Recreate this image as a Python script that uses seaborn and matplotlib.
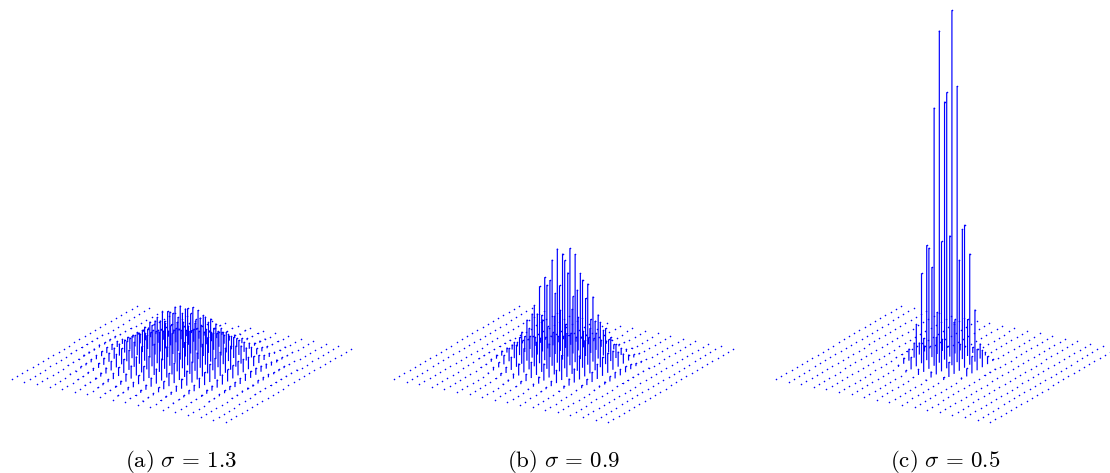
"""Stem plots of a sampled Gaussian kernel for three values of sigma."""
import matplotlib.pyplot as plt
import numpy as np
import pandas as pd
import seaborn as sns

GRID_ROWS = 18
GRID_COLS = 25

# kernel values, only the non-zero block of each grid
ROWS_A = list(range(1, 17))
COLS_A = list(range(1, 24))
VALUES_A = [
    [0, 0, 0, 0, 0, 0, 0, 0, 1, 1, 1, 1, 1, 1, 1, 0, 0, 0, 0, 0, 0, 0, 0],
    [0, 0, 0, 0, 0, 1, 1, 1, 2, 2, 2, 3, 2, 2, 2, 1, 1, 1, 0, 0, 0, 0, 0],
    [0, 0, 0, 1, 1, 2, 2, 3, 4, 5, 6, 6, 6, 5, 4, 3, 2, 2, 1, 1, 0, 0, 0],
    [0, 0, 1, 1, 2, 3, 5, 7, 9, 11, 12, 13, 12, 11, 9, 7, 5, 3, 2, 1, 1, 0, 0],
    [0, 1, 1, 2, 4, 6, 9, 13, 16, 20, 22, 23, 22, 20, 16, 13, 9, 6, 4, 2, 1, 1, 0],
    [0, 1, 2, 3, 6, 9, 14, 20, 25, 31, 34, 36, 34, 31, 25, 20, 14, 9, 6, 3, 2, 1, 0],
    [1, 1, 2, 4, 8, 13, 19, 26, 34, 41, 46, 48, 46, 41, 34, 26, 19, 13, 8, 4, 2, 1, 1],
    [1, 1, 3, 5, 9, 15, 22, 31, 40, 48, 54, 56, 54, 48, 40, 31, 22, 15, 9, 5, 3, 1, 1],
    [1, 1, 3, 5, 9, 15, 22, 31, 41, 49, 55, 57, 55, 49, 41, 31, 22, 15, 9, 5, 3, 1, 1],
    [1, 1, 2, 5, 8, 13, 20, 27, 35, 43, 48, 50, 48, 43, 35, 27, 20, 13, 8, 5, 2, 1, 1],
    [0, 1, 2, 3, 6, 10, 15, 21, 27, 32, 36, 37, 36, 32, 27, 21, 15, 10, 6, 3, 2, 1, 0],
    [0, 1, 1, 2, 4, 6, 10, 13, 18, 21, 24, 25, 24, 21, 18, 13, 10, 6, 4, 2, 1, 1, 0],
    [0, 0, 1, 1, 2, 4, 5, 8, 10, 12, 13, 14, 13, 12, 10, 8, 5, 4, 2, 1, 1, 0, 0],
    [0, 0, 0, 1, 1, 2, 3, 4, 5, 6, 7, 7, 7, 6, 5, 4, 3, 2, 1, 1, 0, 0, 0],
    [0, 0, 0, 0, 0, 1, 1, 2, 2, 2, 3, 3, 3, 2, 2, 2, 1, 1, 0, 0, 0, 0, 0],
    [0, 0, 0, 0, 0, 0, 0, 1, 1, 1, 1, 1, 1, 1, 1, 1, 0, 0, 0, 0, 0, 0, 0],
]

ROWS_B = list(range(3, 15))
COLS_B = list(range(4, 21))
VALUES_B = [
    [0, 0, 0, 0, 0, 1, 1, 1, 1, 1, 1, 1, 0, 0, 0, 0, 0],
    [0, 0, 0, 1, 1, 3, 4, 5, 5, 5, 4, 3, 1, 1, 0, 0, 0],
    [0, 0, 1, 3, 5, 9, 13, 16, 18, 16, 13, 9, 5, 3, 1, 0, 0],
    [0, 1, 3, 6, 13, 22, 32, 41, 44, 41, 32, 22, 13, 6, 3, 1, 0],
    [1, 2, 5, 12, 24, 41, 61, 77, 83, 77, 61, 41, 24, 12, 5, 2, 1],
    [1, 3, 7, 16, 33, 57, 84, 106, 114, 106, 84, 57, 33, 16, 7, 3, 1],
    [1, 3, 7, 17, 34, 58, 86, 108, 117, 108, 86, 58, 34, 17, 7, 3, 1],
    [1, 2, 5, 13, 25, 44, 65, 81, 88, 81, 65, 44, 25, 13, 5, 2, 1],
    [0, 1, 3, 7, 14, 24, 36, 45, 49, 45, 36, 24, 14, 7, 3, 1, 0],
    [0, 0, 1, 3, 6, 10, 15, 19, 20, 19, 15, 10, 6, 3, 1, 0, 0],
    [0, 0, 0, 1, 2, 3, 5, 6, 6, 6, 5, 3, 2, 1, 0, 0, 0],
    [0, 0, 0, 0, 0, 1, 1, 1, 1, 1, 1, 1, 0, 0, 0, 0, 0],
]

ROWS_C = list(range(5, 13))
COLS_C = list(range(7, 18))
VALUES_C = [
    [0, 0, 0, 0, 1, 1, 1, 0, 0, 0, 0],
    [0, 0, 2, 6, 12, 15, 12, 6, 2, 0, 0],
    [0, 2, 12, 42, 90, 115, 90, 42, 12, 2, 0],
    [1, 6, 34, 121, 258, 332, 258, 121, 34, 6, 1],
    [1, 6, 37, 130, 276, 355, 276, 130, 37, 6, 1],
    [0, 3, 15, 52, 111, 143, 111, 52, 15, 3, 0],
    [0, 0, 2, 8, 17, 21, 17, 8, 2, 0, 0],
    [0, 0, 0, 0, 1, 1, 1, 0, 0, 0, 0],
]

CAPTIONS = [r"$\mathrm{(a)}\ \sigma\,=\,1.3$",
            r"$\mathrm{(b)}\ \sigma\,=\,0.9$",
            r"$\mathrm{(c)}\ \sigma\,=\,0.5$"]

# oblique view of the grid, in pixels per grid step
CORNER = (11.7, 93.7)
ROW_STEP = (12.6, -2.53)
COL_STEP = (5.21, 3.07)
PANEL_LEFT = [0, 382.3, 764.3]
PANEL_WIDTH = 370
FIG_W, FIG_H = 1110, 473
BLUE = "#0000ff"


def grid_frame(rows, cols, values):
    """Long table of every grid point with its screen position and value."""
    full = np.zeros((GRID_ROWS, GRID_COLS))
    full[np.ix_(rows, cols)] = values
    row, col = np.meshgrid(np.arange(GRID_ROWS), np.arange(GRID_COLS), indexing="ij")
    df = pd.DataFrame({"row": row.ravel(), "col": col.ravel(), "value": full.ravel()})
    df["sx"] = CORNER[0] + df["row"] * ROW_STEP[0] + df["col"] * COL_STEP[0]
    df["base"] = CORNER[1] + df["row"] * ROW_STEP[1] + df["col"] * COL_STEP[1]
    df["top"] = df["base"] + df["value"]
    return df


def draw_panel(ax, df, caption):
    stems = df[df["value"] > 0]
    lines = ax.vlines(stems["sx"], stems["base"], stems["top"], color=BLUE, linewidth=0.85)
    lines.set_snap(False)
    sns.scatterplot(data=df, x="sx", y="top", ax=ax, color=BLUE, s=1.3,
                    linewidth=0, legend=False)
    ax.text(181, 12, caption, ha="center", va="center", fontsize=16.5, color="black")
    ax.set_xlim(0, PANEL_WIDTH)
    ax.set_ylim(0, FIG_H)
    ax.set_axis_off()


def main():
    sns.set_theme(style="white")
    plt.rcParams["mathtext.fontset"] = "cm"

    fig = plt.figure(figsize=(FIG_W / 100, FIG_H / 100), dpi=100)
    panels = [(ROWS_A, COLS_A, VALUES_A), (ROWS_B, COLS_B, VALUES_B), (ROWS_C, COLS_C, VALUES_C)]
    for left, (rows, cols, values), caption in zip(PANEL_LEFT, panels, CAPTIONS):
        ax = fig.add_axes([left / FIG_W, 0, PANEL_WIDTH / FIG_W, 1])
        draw_panel(ax, grid_frame(rows, cols, values), caption)

    fig.savefig("out.png", dpi=100)
    plt.close(fig)


if __name__ == "__main__":
    main()
